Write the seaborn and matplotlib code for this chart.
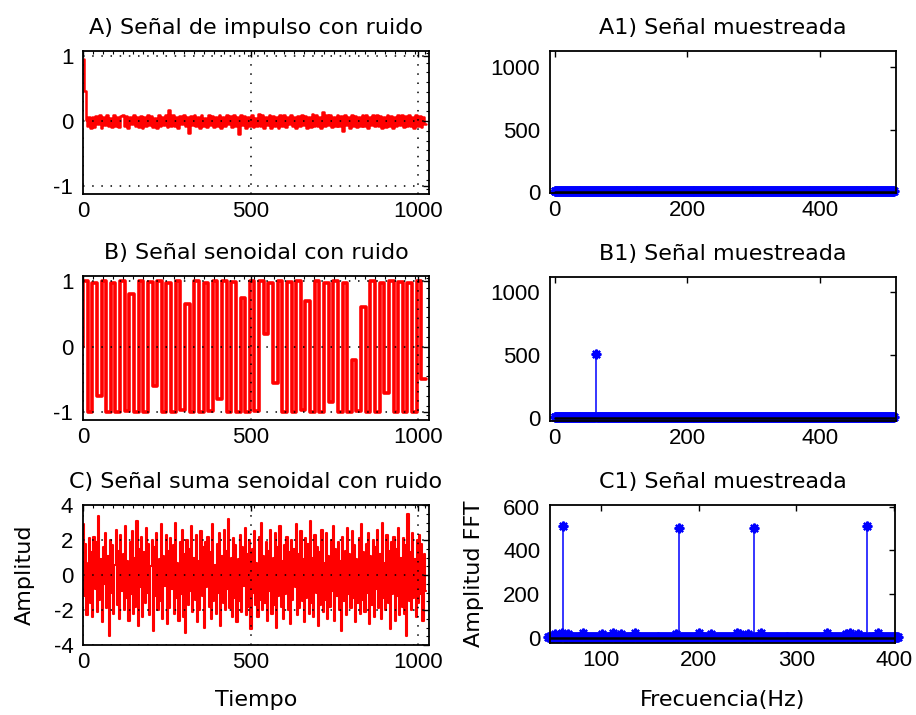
import numpy as np
import seaborn as sns
import matplotlib
matplotlib.use("Agg")
import matplotlib.pyplot as plt
from matplotlib.ticker import MultipleLocator

# ---------------- time signals (coarse) ----------------
# A) impulse + noise
impulse_t = [3, 9, 12]
impulse_v = [0.95, 0.46, 0.02]
noise_a = [
    -0.08, 0.07, -0.10, 0.06, -0.09, 0.08, -0.05, 0.09, -0.10, 0.07,
    -0.06, 0.09, -0.08, 0.05, -0.09, 0.10, -0.07, 0.06, -0.09, 0.08,
    0.09, -0.07, 0.08, -0.10, 0.06, -0.05, 0.10, -0.08, 0.07, -0.09,
    0.08, -0.10, 0.06, -0.07, 0.10, -0.06, 0.08, -0.09, 0.05, -0.10,
    0.09, -0.08, 0.07, -0.06, 0.10, -0.09, 0.17, -0.08, 0.09, -0.07,
    0.06, -0.10, 0.08, -0.05, 0.10, -0.08, 0.07, -0.18, 0.08, -0.06,
    0.10, -0.08, 0.06, -0.10, 0.09, -0.07, 0.05, -0.09, 0.10, -0.06,
    0.08, -0.09, 0.07, -0.08, 0.09, -0.11, 0.06, -0.07, 0.10, -0.05,
    0.08, -0.09, 0.10, -0.08, 0.07, -0.19, 0.09, -0.06, 0.08, -0.10,
    0.06, -0.07, 0.10, -0.09, 0.05, -0.08, 0.11, -0.07, 0.09, -0.10,
    0.07, -0.06, 0.09, -0.10, 0.08, -0.07, 0.06, -0.11, 0.10, -0.08,
    0.10, -0.09, 0.07, -0.05, 0.09, -0.08, 0.06, -0.10, 0.08, -0.07,
    0.10, -0.06, 0.08, -0.10, 0.07, -0.09, 0.11, -0.07, 0.09, -0.08,
    0.06, -0.10, 0.14, -0.08, 0.09, -0.06, 0.10, -0.09, 0.07, -0.08,
    0.10, -0.07, 0.08, -0.15, 0.09, -0.06, 0.07, -0.10, 0.10, -0.08,
    0.08, -0.09, 0.06, -0.07, 0.10, -0.08, 0.09, -0.10, 0.07, -0.06,
    0.09, -0.08, 0.10, -0.07, 0.08, -0.10, 0.06, -0.09, 0.10, -0.07,
    0.08, -0.10, 0.07, -0.08, 0.09, -0.06, 0.10, -0.09, 0.08, -0.07,
    0.09, -0.08, 0.06, -0.10, 0.10, -0.07, 0.08, -0.09, 0.07, -0.05,
]

# B) sine + noise (successive turning points as drawn on screen)
sine_b = [
    0.0,
    1.0, -1.0, 0.98, -0.75, 1.0, -1.0, 0.97, -1.0, 1.0, -0.98,
    0.8, -1.0, 1.0, -1.0, 0.99, -0.6, 1.0, -1.0, 0.98, -1.0,
    1.0, -0.97, 0.65, -1.0, 1.0, -1.0, 0.97, -0.99, 1.0, -0.8,
    1.0, -1.0, 0.99, -1.0, 0.75, -1.0, 1.0, -0.98, 1.0, 0.2,
    0.98, -0.55, 1.0, -1.0, 0.99, -1.0, 1.0, -0.97, 0.7, -1.0,
    1.0, -1.0, 0.98, -0.85, 1.0, -1.0, 0.97, -1.0, -0.2, -0.99,
    0.6, -1.0, 1.0, -1.0, 0.98, -0.7, 1.0, -1.0, 0.99, -1.0,
    0.97, -1.0, 1.0, -0.5,
]

# C) sum of sines + noise
sum_c = [
    0.4, 2.9, -1.2, 1.8, -2.3, 0.7, 2.1, -1.6, 1.3, -2.4,
    2.2, -0.8, 1.9, -2.1, 3.4, -1.4, 0.9, -2.7, 1.6, -0.5,
    2.4, -1.9, 1.1, -3.5, 2.0, -1.0, 1.7, -2.2, 0.6, 2.6,
    -1.7, 1.4, -2.5, 2.3, -0.9, 1.2, -2.0, 2.8, -1.3, 0.8,
    -2.6, 1.9, -1.1, 2.5, -2.2, 1.0, -1.8, 3.1, -2.9, 1.5,
    -0.7, 2.2, -2.4, 1.3, -1.6, 2.7, -1.0, 1.8, -2.3, 0.5,
    2.0, -3.2, 1.6, -1.2, 2.4, -2.0, 0.9, -1.5, 2.9, -2.5,
    1.1, -0.6, 2.3, -2.8, 1.4, -1.9, 2.1, -0.8, 1.7, -2.2,
    3.0, -1.3, 0.7, -2.6, 1.9, -1.1, 2.6, -2.4, 1.2, -3.3,
    2.0, -1.7, 1.5, -0.9, 2.8, -2.1, 1.0, -1.4, 2.3, -2.7,
    0.8, -2.0, 2.5, -1.2, 1.6, -3.0, 1.9, -0.7, 2.2, -1.8,
    1.3, -2.5, 2.9, -1.5, 0.6, -2.2, 1.8, -1.0, 2.4, -2.9,
    1.1, -1.6, 2.6, -2.0, 1.4, -0.8, 3.2, -1.9, 1.0, -2.4,
    2.1, -1.3, 1.7, -2.7, 0.9, -1.5, 2.3, -2.1, 1.6, -0.6,
    2.7, -2.3, 1.2, -1.8, 2.0, -3.1, 1.5, -1.0, 2.5, -1.7,
    0.7, -2.4, 2.2, -1.4, 3.0, -2.0, 1.1, -1.6, 1.9, -2.6,
    1.4, -0.9, 2.6, -2.2, 1.0, -1.7, 2.4, -3.0, 1.6, -1.2,
    2.8, -1.8, 0.8, -2.5, 1.7, -1.1, 2.2, -2.0, 1.3, -2.8,
    2.0, -1.4, 1.5, -0.7, 2.9, -2.3, 1.2, -1.9, 2.5, -1.5,
    0.9, -2.7, 2.1, -1.3, 1.8, -2.2, 3.1, -1.6, 1.0, -2.4,
    2.3, -1.0, 1.6, -2.9, 1.3, -1.7, 2.6, -2.1, 0.7, -1.4,
    2.4, -2.5, 1.1, -1.8, 2.0, -0.9, 2.8, -2.6, 1.5, -1.2,
    1.9, -2.0, 0.8, -3.2, 2.2, -1.5, 1.4, -2.3, 2.7, -1.1,
    1.2, -1.9, 2.5, -1.3, 1.7, -2.7, 0.9, -1.6, 2.1, -2.2,
    2.9, -1.4, 1.3, -2.1, 1.8, -1.0, 2.4, -2.8, 1.1, -1.7,
    2.0, -2.4, 1.6, -0.8, 2.6, -1.9, 1.2, -2.5, 3.0, -1.3,
    0.7, -2.0, 2.3, -1.6, 1.4, -3.1, 1.9, -1.1, 2.2, -2.6,
    1.5, -1.2, 2.7, -2.3, 1.0, -1.8, 2.1, -2.2, 1.7, -3.5,
    3.5, -1.5, 1.3, -2.0, 2.4, -1.3, 0.9, -2.4, 2.0, -1.6,
    2.3, -1.1, 1.8, -2.6, 1.2, -0.9,
]
n_samples = 1024

# ---------------- spectra ----------------
bins_ab = np.arange(0, 513)
floor_a = 8            # flat, near zero
floor_b = 8
peak_b_bin = [63]
peak_b_val = [510]

freq_c = np.arange(46, 405)
floor_c = 7
peak_c_freq = [61, 180, 257, 372]
peak_c_val = [513, 501, 501, 513]
small_c_freq = [53, 60, 66, 82, 101, 112, 121, 135, 177, 200, 213, 239, 242, 251, 264, 331, 351, 355, 363, 384]
small_c_val = [22, 24, 21, 23, 22, 24, 21, 23, 22, 24, 21, 25, 22, 21, 23, 24, 22, 23, 21, 24]

spec_a = np.full(len(bins_ab), float(floor_a))
spec_b = np.full(len(bins_ab), float(floor_b))
spec_b[peak_b_bin] = peak_b_val
spec_c = np.full(len(freq_c), float(floor_c))
spec_c[np.searchsorted(freq_c, small_c_freq)] = small_c_val
spec_c[np.searchsorted(freq_c, peak_c_freq)] = peak_c_val

# ---------------- figure ----------------
sns.set_theme(style="white")
plt.rcParams["font.family"] = ["DejaVu Sans"]
plt.rcParams["axes.unicode_minus"] = False

W, H = 916, 715
fig = plt.figure(figsize=(W / 100, H / 100), dpi=100)
fig.patch.set_facecolor("white")


def rect(l, t, r, b):
    return [l / W, 1 - b / H, (r - l) / W, (b - t) / H]


RED = "#ff0000"
BLUE = "#0000ff"


def style(ax, title, xticks, yticks):
    ax.set_facecolor("white")
    ax.set_xticks(xticks)
    ax.set_yticks(yticks)
    ax.tick_params(which="both", direction="in", top=True, right=True,
                   colors="black", labelsize=16, labelfontfamily="Liberation Sans")
    ax.tick_params(axis="x", pad=5)
    ax.tick_params(axis="y", pad=7)
    ax.tick_params(which="major", length=4, width=1)
    ax.tick_params(which="minor", length=2.5, width=0.8)
    for s in ax.spines.values():
        s.set_color("black")
        s.set_linewidth(1.3)
    ax.set_xlabel("")
    ax.set_ylabel("")
    ax.set_title(title, fontsize=16, pad=12, color="black")


def time_panel(ax, t, v, title, yticks, ylim, yminor, lw):
    sns.lineplot(x=t, y=v, ax=ax, color=RED, linewidth=lw, estimator=None,
                 sort=False, drawstyle="steps-pre")
    ax.set_xlim(0, 1032)
    ax.set_ylim(*ylim)
    style(ax, title, [0, 500, 1000], yticks)
    ax.xaxis.set_minor_locator(MultipleLocator(30))
    ax.yaxis.set_minor_locator(MultipleLocator(yminor))
    ax.grid(True, which="major", color="black", linestyle=(0, (1, 5)), linewidth=1.1)
    ax.set_axisbelow(False)


def spec_panel(ax, x, y, title, xticks, yticks, xlim, ylim):
    ml, sl, bl = ax.stem(x, y, linefmt="-", basefmt="k-")
    sl.set_color(BLUE)
    sl.set_linewidth(1.1)
    ml.set_linestyle("none")
    ml.set_marker((8, 2, 0))
    ml.set_markersize(7)
    ml.set_markeredgewidth(1.6)
    ml.set_markeredgecolor(BLUE)
    ml.set_markerfacecolor(BLUE)
    ml.set_clip_on(False)
    bl.set_color("black")
    bl.set_linewidth(1.8)
    bl.set_zorder(3)
    ax.set_xlim(*xlim)
    ax.set_ylim(*ylim)
    style(ax, title, xticks, yticks)


# A) impulse
ax_a = fig.add_axes(rect(83, 51, 429, 194))
t_a = np.concatenate([impulse_t, np.linspace(15, n_samples - 1, len(noise_a))])
v_a = np.array(impulse_v + noise_a)
time_panel(ax_a, t_a, v_a, "A) Señal de impulso con ruido", [-1, 0, 1], (-1.12, 1.08), 0.15, 1.8)

# B) sine
ax_b = fig.add_axes(rect(83, 276, 429, 420))
t_b = np.linspace(0, n_samples - 1, len(sine_b))
time_panel(ax_b, t_b, np.array(sine_b), "B) Señal senoidal con ruido", [-1, 0, 1], (-1.12, 1.08), 0.15, 2.6)

# C) sum of sines
ax_c = fig.add_axes(rect(83, 505, 429, 645))
t_c = np.linspace(0, n_samples - 1, len(sum_c))
time_panel(ax_c, t_c, np.array(sum_c), "C) Señal suma senoidal con ruido", [-4, -2, 0, 2, 4], (-4, 4), 0.5, 1.5)
ax_c.set_ylabel("Amplitud", fontsize=16, color="black")
ax_c.yaxis.set_label_coords(-0.14, 0.5)
ax_c.set_xlabel("Tiempo", fontsize=16, color="black")
ax_c.xaxis.set_label_coords(0.5, -0.32)

# A1 / B1 / C1 spectra
ax_a1 = fig.add_axes(rect(550, 51, 896, 193))
spec_panel(ax_a1, bins_ab, spec_a, "A1) Señal muestreada", [0, 200, 400], [0, 500, 1000], (-7, 515), (-4, 1128))

ax_b1 = fig.add_axes(rect(550, 277, 896, 421))
spec_panel(ax_b1, bins_ab, spec_b, "B1) Señal muestreada", [0, 200, 400], [0, 500, 1000], (-7, 515), (-24, 1119))

ax_c1 = fig.add_axes(rect(550, 505, 895, 643))
spec_panel(ax_c1, freq_c, spec_c, "C1) Señal muestreada", [100, 200, 300, 400], [0, 200, 400, 600], (48, 401), (-21, 607))
ax_c1.set_ylabel("Amplitud FFT", fontsize=16, color="black")
ax_c1.yaxis.set_label_coords(-0.19, 0.5)
ax_c1.set_xlabel("Frecuencia(Hz)", fontsize=16, color="black")
ax_c1.xaxis.set_label_coords(0.5, -0.34)

fig.savefig("out.png", dpi=100, facecolor="white")
